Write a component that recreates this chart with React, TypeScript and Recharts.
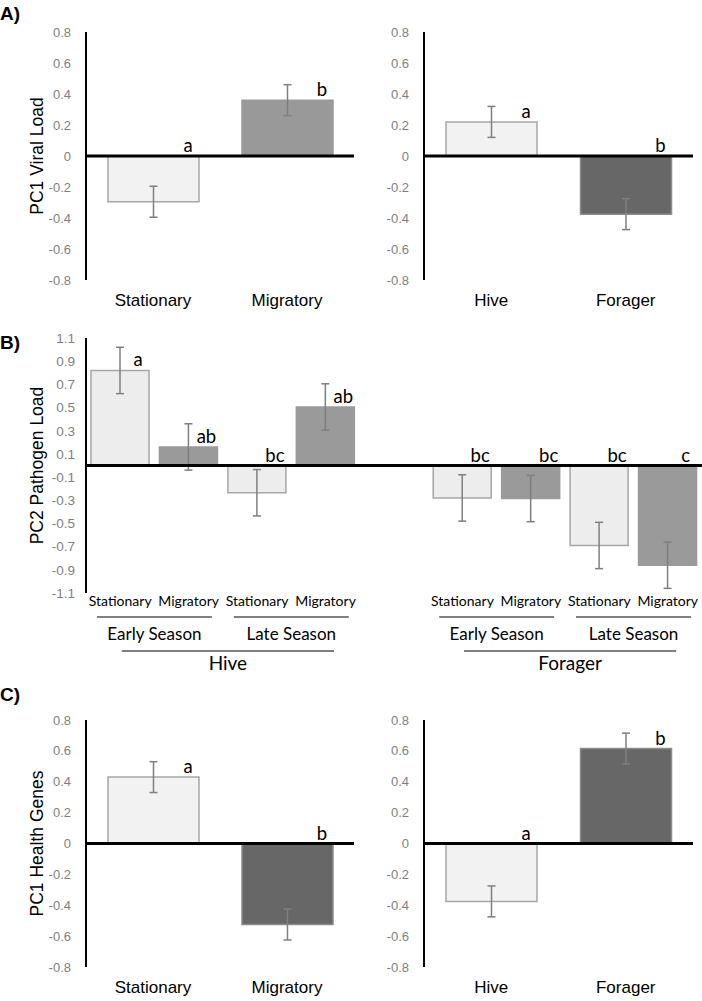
import { Bar, BarChart, Cell, ErrorBar, LabelList, ReferenceLine, XAxis, YAxis } from 'recharts'

// panel A / C categories
const moveCats = ['Stationary', 'Migratory']
const casteCats = ['Hive', 'Forager']

// A) PC1 viral load
const viralMove = [-0.295, 0.36]
const viralMoveSe = [0.1, 0.1]
const viralMoveLetters = ['a', 'b']
const viralCaste = [0.22, -0.375]
const viralCasteSe = [0.1, 0.1]
const viralCasteLetters = ['a', 'b']

// C) PC1 health genes
const healthMove = [0.43, -0.525]
const healthMoveSe = [0.1, 0.1]
const healthMoveLetters = ['a', 'b']
const healthCaste = [-0.375, 0.615]
const healthCasteSe = [0.1, 0.1]
const healthCasteLetters = ['a', 'b']

// B) PC2 pathogen load (5th slot is the gap between Hive and Forager)
const pathKeys = ['h-es', 'h-em', 'h-ls', 'h-lm', 'gap', 'f-es', 'f-em', 'f-ls', 'f-lm']
const pathTreat = ['Stationary', 'Migratory', 'Stationary', 'Migratory', '', 'Stationary', 'Migratory', 'Stationary', 'Migratory']
const pathSeason = ['Early Season', 'Early Season', 'Late Season', 'Late Season', '', 'Early Season', 'Early Season', 'Late Season', 'Late Season']
const pathGroup = ['Hive', 'Hive', 'Hive', 'Hive', '', 'Forager', 'Forager', 'Forager', 'Forager']
const pathLoad = [0.82, 0.16, -0.235, 0.505, null, -0.28, -0.285, -0.69, -0.86]
const pathSe = [0.2, 0.2, 0.2, 0.2, null, 0.2, 0.2, 0.2, 0.2]
const pathLetters = ['a', 'ab', 'bc', 'ab', '', 'bc', 'bc', 'bc', 'c']

const ticks08 = [-0.8, -0.6, -0.4, -0.2, 0, 0.2, 0.4, 0.6, 0.8]
const ticks11 = [-1.1, -0.9, -0.7, -0.5, -0.3, -0.1, 0.1, 0.3, 0.5, 0.7, 0.9, 1.1]

const LIGHT = '#f2f2f2'
const MID = '#999999'
const DARK = '#676767'

const sans = '"Liberation Sans", Arial, sans-serif'
const calib = 'Lato, "Noto Sans", sans-serif'

const build = (cats: string[], vals: (number | null)[], se: (number | null)[], letters: string[]) =>
  cats.map((name, i) => ({ name, value: vals[i], err: se[i], letter: letters[i] }))

const renderLetter = (props: any) => {
  const { x, y, width, height, value } = props
  if (!value) return null
  const top = Math.min(Number(y), Number(y) + Number(height))
  return (
    <text x={Number(x) + Number(width) - 11} y={top - 4} textAnchor="middle" fontSize={18.5} fontFamily={calib} fill="#000">
      {value}
    </text>
  )
}

const fmt = (v: number) => (v === 0 ? '0' : v.toFixed(1))

type PanelProps = {
  data: { name: string; value: number | null; err: number | null; letter: string }[]
  fills: string[]
  strokes: string[]
  width: number
  height: number
  marginTop: number
  marginRight: number
  axisWidth: number
  xHeight: number
  title?: string
}

const SmallPanel = ({ data, fills, strokes, width, height, marginTop, marginRight, axisWidth, xHeight, title }: PanelProps) => (
  <BarChart width={width} height={height} data={data} margin={{ top: marginTop, right: marginRight, left: 0, bottom: 0 }}>
    <XAxis
      dataKey="name"
      axisLine={false}
      tickLine={false}
      tickSize={0}
      tickMargin={14}
      height={xHeight}
      interval={0}
      tick={{ fontSize: 17, fill: '#000', fontFamily: sans }}
    />
    <YAxis
      domain={[-0.8, 0.8]}
      ticks={ticks08}
      width={axisWidth}
      axisLine={{ stroke: '#000', strokeWidth: 2 }}
      tickLine={false}
      tickSize={0}
      tickMargin={15}
      tickFormatter={fmt}
      tick={{ fontSize: 13, fill: '#7f7f7f', fontFamily: sans }}
      label={
        title
          ? { value: title, angle: -90, position: 'insideLeft', offset: 37, style: { textAnchor: 'middle', fontSize: 17.5, fill: '#000', fontFamily: sans } }
          : undefined
      }
    />
    <Bar dataKey="value" barSize={91} isAnimationActive={false}>
      {data.map((d, i) => (
        <Cell key={d.name} fill={fills[i]} stroke={strokes[i]} strokeWidth={1.5} />
      ))}
      <ErrorBar dataKey="err" width={4} stroke="#7f7f7f" strokeWidth={1.5} direction="y" isAnimationActive={false} />
      <LabelList dataKey="letter" content={renderLetter} />
    </Bar>
    <ReferenceLine y={0} stroke="#000" strokeWidth={3} />
  </BarChart>
)

const PathTick = (props: any) => {
  const { x, y, payload } = props
  const i = pathKeys.indexOf(payload.value)
  if (i < 0 || !pathTreat[i]) return null
  const pitch = payload.offset ? payload.offset * 2 : 68.4
  const pairEnd = i > 0 && pathSeason[i - 1] === pathSeason[i] && pathGroup[i - 1] === pathGroup[i]
  const groupEnd = pathGroup[i + 1] !== pathGroup[i]
  const first = pathGroup.indexOf(pathGroup[i])
  const groupMid = x - ((i - first) * pitch) / 2 + 5
  const pairMid = x - pitch / 2
  return (
    <g fontFamily={calib} fill="#000">
      <text x={x} y={y + 13} textAnchor="middle" fontSize={14}>
        {pathTreat[i]}
      </text>
      {pairEnd && (
        <g>
          <line x1={pairMid - pitch * 0.84} x2={pairMid + pitch * 0.84} y1={y + 24} y2={y + 24} stroke="#000" strokeWidth={1} />
          <text x={pairMid} y={y + 47} textAnchor="middle" fontSize={17}>
            {pathSeason[i]}
          </text>
        </g>
      )}
      {groupEnd && (
        <g>
          <line x1={groupMid - pitch * 1.55} x2={groupMid + pitch * 1.55} y1={y + 58} y2={y + 58} stroke="#000" strokeWidth={1} />
          <text x={groupMid} y={y + 77} textAnchor="middle" fontSize={19}>
            {pathGroup[i]}
          </text>
        </g>
      )}
    </g>
  )
}

const pathData = pathKeys.map((key, i) => ({ key, value: pathLoad[i], err: pathSe[i], letter: pathLetters[i] }))
const pathFills = pathTreat.map((t) => (t === 'Stationary' ? '#ededed' : '#9a9a9a'))
const pathStrokes = pathTreat.map((t) => (t === 'Stationary' ? '#a6a6a6' : '#9a9a9a'))

const panelLabel = (text: string, top: number) => (
  <div style={{ position: 'absolute', left: 0, top, fontFamily: sans, fontWeight: 'bold', fontSize: 19, lineHeight: '20px' }}>{text}</div>
)

export default function App() {
  return (
    <div style={{ position: 'absolute', left: 0, top: 0, width: 702, height: 1001, background: '#fff', overflow: 'hidden' }}>
      {panelLabel('A)', 4)}
      {panelLabel('B)', 333)}
      {panelLabel('C)', 685)}

      <div style={{ position: 'absolute', left: 0, top: 0 }}>
        <SmallPanel
          data={build(moveCats, viralMove, viralMoveSe, viralMoveLetters)}
          fills={[LIGHT, MID]}
          strokes={['#a6a6a6', MID]}
          width={360}
          height={320}
          marginTop={32}
          marginRight={6}
          axisWidth={86}
          xHeight={40}
          title="PC1 Viral Load"
        />
      </div>
      <div style={{ position: 'absolute', left: 360, top: 0 }}>
        <SmallPanel
          data={build(casteCats, viralCaste, viralCasteSe, viralCasteLetters)}
          fills={[LIGHT, DARK]}
          strokes={['#a6a6a6', '#8c8c8c']}
          width={342}
          height={320}
          marginTop={32}
          marginRight={9}
          axisWidth={64}
          xHeight={40}
        />
      </div>

      <div style={{ position: 'absolute', left: 0, top: 330 }}>
        <BarChart width={702} height={360} data={pathData} margin={{ top: 8, right: 0, left: 0, bottom: 0 }}>
          <XAxis dataKey="key" axisLine={false} tickLine={false} tickSize={0} tickMargin={0} height={97} interval={0} tick={<PathTick />} />
          <YAxis
            domain={[-1.1, 1.1]}
            ticks={ticks11}
            width={86}
            axisLine={{ stroke: '#000', strokeWidth: 2 }}
            tickLine={false}
            tickSize={0}
            tickMargin={11}
            tickFormatter={(v: number) => v.toFixed(1)}
            tick={{ fontSize: 13.5, fill: '#7f7f7f', fontFamily: sans }}
            label={{ value: 'PC2 Pathogen Load', angle: -90, position: 'insideLeft', offset: 37, style: { textAnchor: 'middle', fontSize: 17.5, fill: '#000', fontFamily: sans } }}
          />
          <Bar dataKey="value" barSize={58} isAnimationActive={false}>
            {pathData.map((d, i) => (
              <Cell key={d.key} fill={pathFills[i]} stroke={pathStrokes[i]} strokeWidth={1.5} />
            ))}
            <ErrorBar dataKey="err" width={4} stroke="#7f7f7f" strokeWidth={1.5} direction="y" isAnimationActive={false} />
            <LabelList dataKey="letter" content={renderLetter} />
          </Bar>
          <ReferenceLine y={0} stroke="#000" strokeWidth={3} />
        </BarChart>
      </div>

      <div style={{ position: 'absolute', left: 0, top: 690 }}>
        <SmallPanel
          data={build(moveCats, healthMove, healthMoveSe, healthMoveLetters)}
          fills={[LIGHT, DARK]}
          strokes={['#a6a6a6', '#8c8c8c']}
          width={360}
          height={311}
          marginTop={30}
          marginRight={6}
          axisWidth={86}
          xHeight={34}
          title="PC1 Health Genes"
        />
      </div>
      <div style={{ position: 'absolute', left: 360, top: 690 }}>
        <SmallPanel
          data={build(casteCats, healthCaste, healthCasteSe, healthCasteLetters)}
          fills={[LIGHT, DARK]}
          strokes={['#a6a6a6', '#8c8c8c']}
          width={342}
          height={311}
          marginTop={30}
          marginRight={9}
          axisWidth={64}
          xHeight={34}
        />
      </div>
    </div>
  )
}
